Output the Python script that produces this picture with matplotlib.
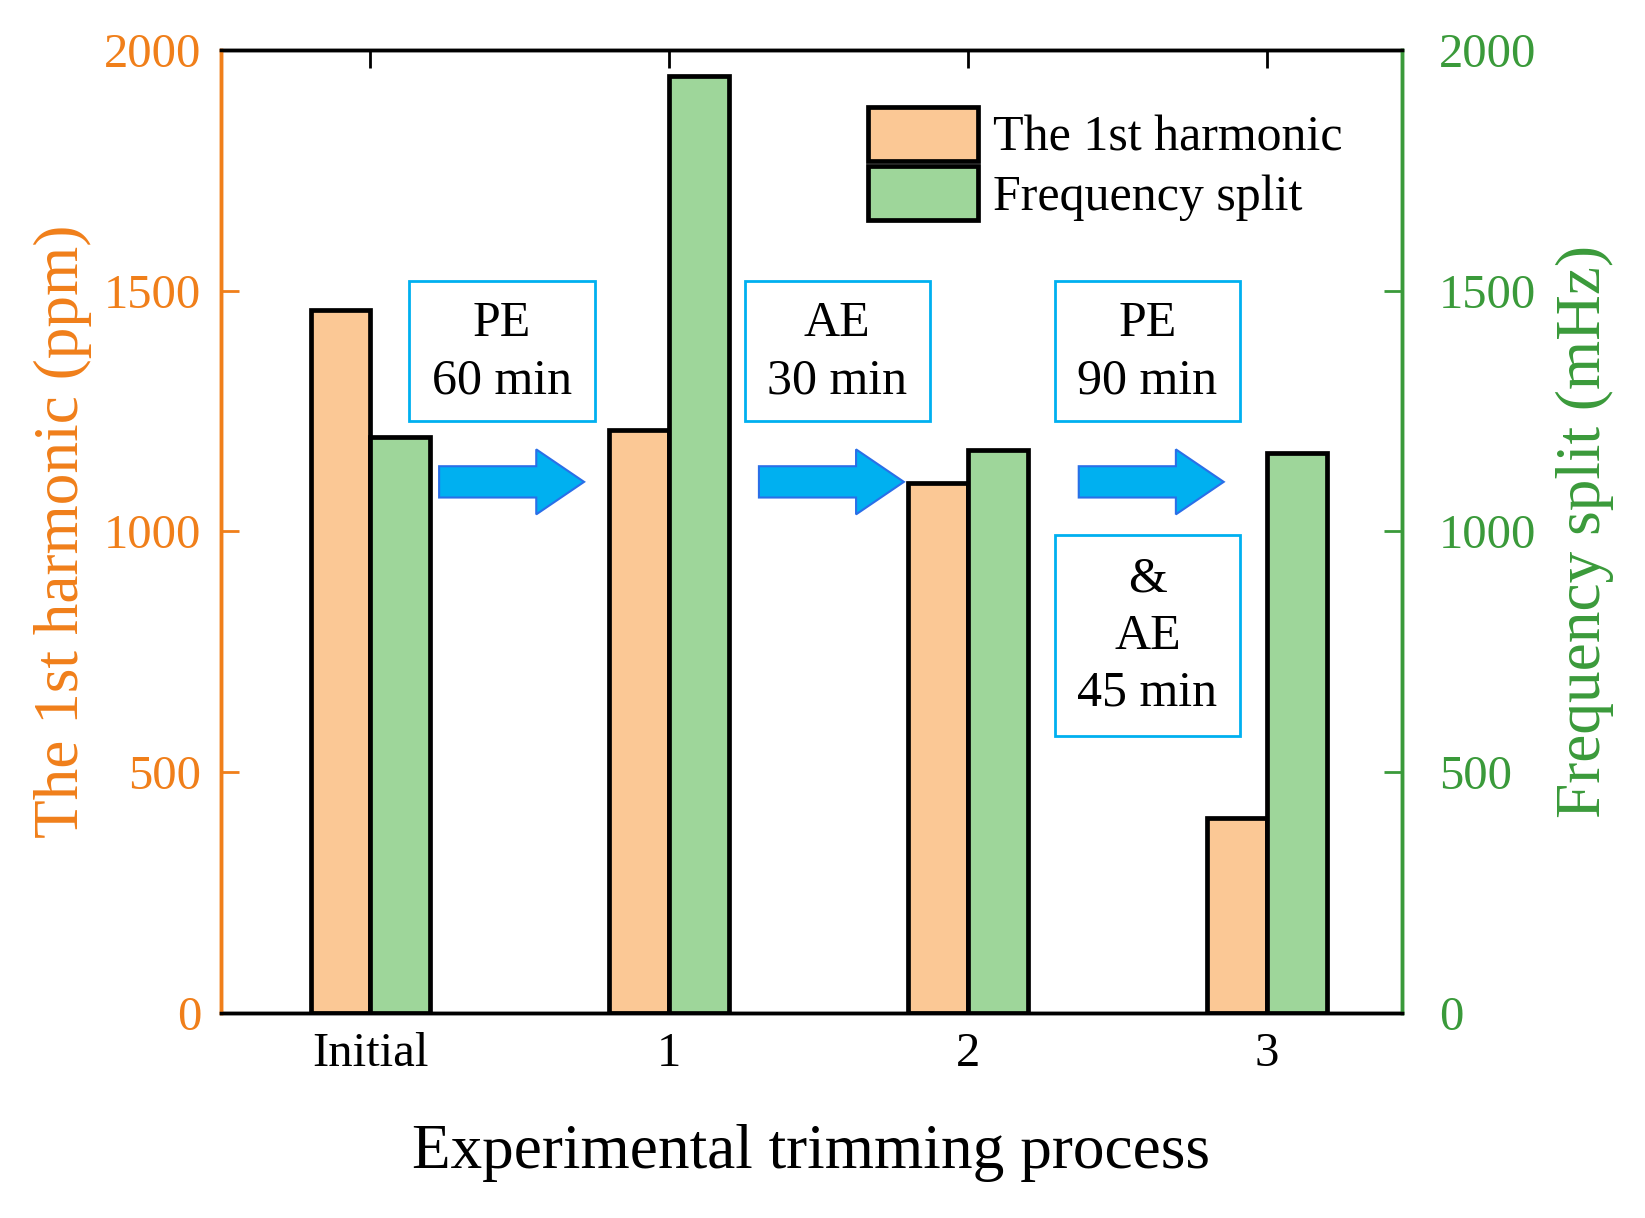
import numpy as np
import matplotlib
matplotlib.use("Agg")
import matplotlib.pyplot as plt
from matplotlib.patches import Rectangle, FancyArrow

plt.rcParams['font.family'] = ['Liberation Serif', 'DejaVu Serif']

# data
steps = ["Initial", "1", "2", "3"]
harmonic = [1460, 1210, 1100, 405]        # ppm, left axis
freq_split = [1197, 1946, 1169, 1162]     # mHz, right axis

# annotation texts between steps
notes = ["PE\n60 min", "AE\n30 min", "PE\n90 min"]
note_extra = "&\nAE\n45 min"

orange = "#F07F1A"
green = "#3A9A3A"
c_harm = "#FBC895"
c_freq = "#9ED69A"
blue = "#00B0F0"

fig = plt.figure(figsize=(16.45, 12.18), dpi=100)
ax = fig.add_axes([0.1343, 0.1683, 0.7177, 0.7907])
ax2 = ax.twinx()

x = np.arange(len(steps))
w = 0.2
lw = 3.4

b1 = ax.bar(x - w/2, harmonic, w, color=c_harm, edgecolor="black", linewidth=lw,
            label="The 1st harmonic", zorder=3)
b2 = ax2.bar(x + w/2, freq_split, w, color=c_freq, edgecolor="black", linewidth=lw,
             label="Frequency split", zorder=3)

ax.set_xlim(-0.5, 3.45)
ax.set_ylim(0, 2000)
ax2.set_ylim(0, 2000)
ax.set_yticks([0, 500, 1000, 1500, 2000])
ax2.set_yticks([0, 500, 1000, 1500, 2000])
ax.set_xticks(x)
ax.set_xticklabels(steps)

fs_tick = 35
ax.tick_params(axis="y", direction="in", length=13, width=2, colors=orange,
               labelsize=fs_tick, pad=14)
ax2.tick_params(axis="y", direction="in", length=13, width=2, colors=green,
                labelsize=fs_tick, pad=27)
ax.tick_params(axis="x", direction="in", length=13, width=2, top=True,
               labelsize=fs_tick, pad=14)

for a in (ax, ax2):
    a.spines["left"].set_color(orange)
    a.spines["right"].set_color(green)
    a.spines["top"].set_color("black")
    a.spines["bottom"].set_color("black")
    for s in a.spines.values():
        s.set_linewidth(2.5)

fs_lab = 45.5
ax.set_ylabel("The 1st harmonic (ppm)", fontsize=fs_lab, color=orange, labelpad=9)
ax2.set_ylabel("Frequency split (mHz)", fontsize=fs_lab, color=green, labelpad=14)
ax.set_xlabel("Experimental trimming process", fontsize=fs_lab, labelpad=34)

# boxes with the trimming steps
box_x = [0.13, 1.252, 2.29]
box_w = 0.62
for bx, txt in zip(box_x, notes):
    ax2.add_patch(Rectangle((bx, 1230), box_w, 290, facecolor="white",
                            edgecolor=blue, linewidth=2, zorder=4))
    ax2.text(bx + box_w/2, 1372, txt, ha="center", va="center", fontsize=36,
             linespacing=1.3, zorder=5)
ax2.add_patch(Rectangle((box_x[2], 575), box_w, 418, facecolor="white",
                        edgecolor=blue, linewidth=2, zorder=4))
ax2.text(box_x[2] + box_w/2, 782, note_extra, ha="center", va="center",
         fontsize=36, linespacing=1.3, zorder=5)

# arrows
arrow_x = [0.23, 1.30, 2.37]
for ax0 in arrow_x:
    ax2.add_patch(FancyArrow(ax0, 1103, 0.485, 0, width=65, head_width=135,
                             head_length=0.16, length_includes_head=True,
                             facecolor=blue, edgecolor="#2A6FE8", linewidth=1.5,
                             zorder=4))

leg = ax2.legend(handles=[b1, b2], loc="upper left", bbox_to_anchor=(0.548, 0.941),
                 frameon=False, fontsize=36, handlelength=2.2, handleheight=1.3,
                 handletextpad=0.3, labelspacing=0.08, borderpad=0, borderaxespad=0)

fig.savefig("out.png", dpi=100)
